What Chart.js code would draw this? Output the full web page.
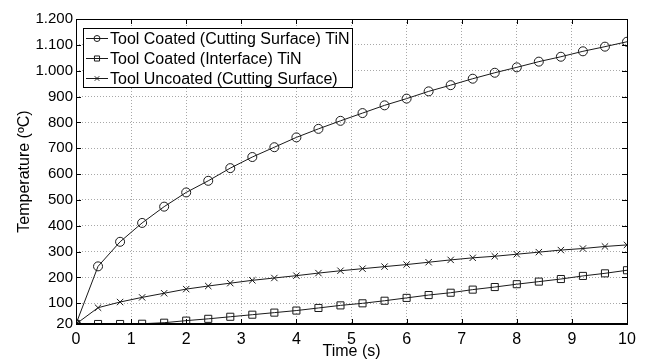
<!DOCTYPE html>
<html>
<head>
<meta charset="utf-8">
<script src="https://cdn.jsdelivr.net/npm/chart.js@4/dist/chart.umd.min.js"></script>
<style>
  html, body { margin: 0; padding: 0; background: #fff; }
  #wrap { width: 646px; height: 359px; }
</style>
</head>
<body>
<div id="wrap"><canvas id="chart" width="646" height="359"></canvas></div>
<script>
let times = [0, 0.4, 0.8, 1.2, 1.6, 2.0, 2.4, 2.8, 3.2, 3.6, 4.0, 4.4, 4.8, 5.2, 5.6, 6.0, 6.4, 6.8, 7.2, 7.6, 8.0, 8.4, 8.8, 9.2, 9.6, 10];
let coatedSurface = [20, 243, 338, 411, 474, 529, 574, 623, 666, 704, 742, 775, 806, 836, 866, 892, 920, 944, 969, 992, 1013, 1035, 1054, 1075, 1093, 1112];
let coatedInterface = [20, 20, 20, 21, 25, 33, 40, 48, 56, 64, 72, 82, 92, 100, 110, 121, 132, 141, 153, 163, 174, 184, 194, 206, 216, 228];
let uncoatedSurface = [20, 83, 105, 123, 139, 155, 167, 178, 189, 198, 207, 217, 226, 234, 242, 250, 259, 268, 276, 282, 290, 298, 306, 312, 320, 326];
let seriesLabels = ["Tool Coated (Cutting Surface) TiN", "Tool Coated (Interface) TiN", "Tool Uncoated (Cutting Surface)"];
let yTicks = [20, 100, 200, 300, 400, 500, 600, 700, 800, 900, 1000, 1100, 1200];
let xTicks = [0, 1, 2, 3, 4, 5, 6, 7, 8, 9, 10];

Chart.defaults.font.family = "'Liberation Sans', Arial, sans-serif";
Chart.defaults.font.size = 15;
Chart.defaults.color = "#000";

function toPoints(values) {
    return values.map((v, i) => ({ x: times[i], y: v }));
}

function formatTemp(v) {
    if (v >= 1000) return Math.floor(v / 1000) + "." + String(v % 1000).padStart(3, "0");
    return String(v);
}

// frame + inward tick marks, matlab style
let framePlugin = {
    id: "frame",
    afterDatasetsDraw(chart) {
        let { ctx, chartArea: a, scales } = chart;
        ctx.save();
        ctx.strokeStyle = "#000";
        ctx.lineWidth = 1;
        let len = 5;
        ctx.beginPath();
        yTicks.forEach(v => {
            let y = Math.round(scales.y.getPixelForValue(v)) + 0.5;
            ctx.moveTo(a.left, y); ctx.lineTo(a.left + len, y);
            ctx.moveTo(a.right, y); ctx.lineTo(a.right - len, y);
        });
        xTicks.forEach(v => {
            let x = Math.round(scales.x.getPixelForValue(v)) + 0.5;
            ctx.moveTo(x, a.top); ctx.lineTo(x, a.top + len);
            ctx.moveTo(x, a.bottom); ctx.lineTo(x, a.bottom - len);
        });
        ctx.stroke();
        ctx.strokeRect(Math.round(a.left) + 0.5, Math.round(a.top) + 0.5, Math.round(a.right - a.left), Math.round(a.bottom - a.top));
        ctx.lineWidth = 2;
        ctx.beginPath();
        ctx.moveTo(a.left, a.bottom); ctx.lineTo(a.right, a.bottom);
        ctx.stroke();
        ctx.restore();
    }
};

let legendPlugin = {
    id: "boxLegend",
    afterDraw(chart) {
        let { ctx, chartArea: a } = chart;
        let x0 = a.left + 7, y0 = a.top + 9, w = 269, h = 59, row = 20;
        ctx.save();
        ctx.fillStyle = "#fff";
        ctx.fillRect(x0, y0, w, h);
        ctx.strokeStyle = "#000";
        ctx.lineWidth = 1;
        ctx.strokeRect(Math.round(x0) + 0.5, Math.round(y0) + 0.5, w, h);
        chart.data.datasets.forEach((ds, i) => {
            let cy = Math.round(y0 + 10 + i * row) + 0.5;
            ctx.strokeStyle = ds.borderColor;
            ctx.lineWidth = 1;
            ctx.beginPath();
            ctx.moveTo(x0 + 3, cy); ctx.lineTo(x0 + 25, cy);
            ctx.stroke();
            ctx.fillStyle = "rgba(0,0,0,0)";
            Chart.helpers.drawPoint(ctx, {
                pointStyle: ds.pointStyle,
                radius: ds.legendRadius,
                borderWidth: 1,
                rotation: 0
            }, x0 + 14, cy);
            ctx.fillStyle = "#000";
            ctx.font = "16px 'Liberation Sans', Arial, sans-serif";
            ctx.textBaseline = "middle";
            ctx.fillText(ds.label, x0 + 27, cy + 1);
        });
        ctx.restore();
    }
};

function makeDataset(label, values, style, radius, legendRadius) {
    return {
        label,
        data: toPoints(values),
        borderColor: "#1a1a1a",
        backgroundColor: "rgba(0,0,0,0)",
        borderWidth: 1,
        pointStyle: style,
        pointRadius: radius,
        legendRadius,
        pointBorderWidth: 1,
        pointBorderColor: "#1a1a1a",
        pointBackgroundColor: "rgba(0,0,0,0)",
        tension: 0
    };
}

let ctx = document.getElementById("chart").getContext("2d");
let chart = new Chart(ctx, {
    type: "line",
    data: {
        datasets: [
            makeDataset(seriesLabels[0], coatedSurface, "circle", 4.5, 3),
            makeDataset(seriesLabels[1], coatedInterface, "rect", 5, 3.6),
            makeDataset(seriesLabels[2], uncoatedSurface, "crossRot", 4.5, 3.2)
        ]
    },
    options: {
        responsive: false,
        animation: false,
        layout: { padding: { left: 0, top: 19, right: 19, bottom: 0 } },
        plugins: {
            legend: { display: false },
            tooltip: { enabled: false }
        },
        scales: {
            x: {
                type: "linear",
                min: 0,
                max: 10,
                afterBuildTicks: s => { s.ticks = xTicks.map(v => ({ value: v })); },
                afterFit: s => { s.height = 35; },
                ticks: { padding: 6, maxRotation: 0, font: { size: 16 } },
                grid: { color: "#a8a8a8", drawTicks: false, lineWidth: 1 },
                border: { display: false, dash: [1, 2] },
                title: { display: true, text: "Time (s)", padding: { top: 0, bottom: -1 }, font: { size: 16, lineHeight: 1 } }
            },
            y: {
                type: "linear",
                min: 20,
                max: 1200,
                afterBuildTicks: s => { s.ticks = yTicks.map(v => ({ value: v })); },
                afterFit: s => { s.width = 76; },
                ticks: { padding: 3, callback: v => formatTemp(v), font: { size: 15 } },
                grid: { color: "#a8a8a8", drawTicks: false, lineWidth: 1 },
                border: { display: false, dash: [1, 2] },
                title: { display: true, text: "Temperature (ºC)", padding: { top: 15, bottom: 0 }, font: { size: 16 } }
            }
        }
    },
    plugins: [framePlugin, legendPlugin]
});
</script>
</body>
</html>
